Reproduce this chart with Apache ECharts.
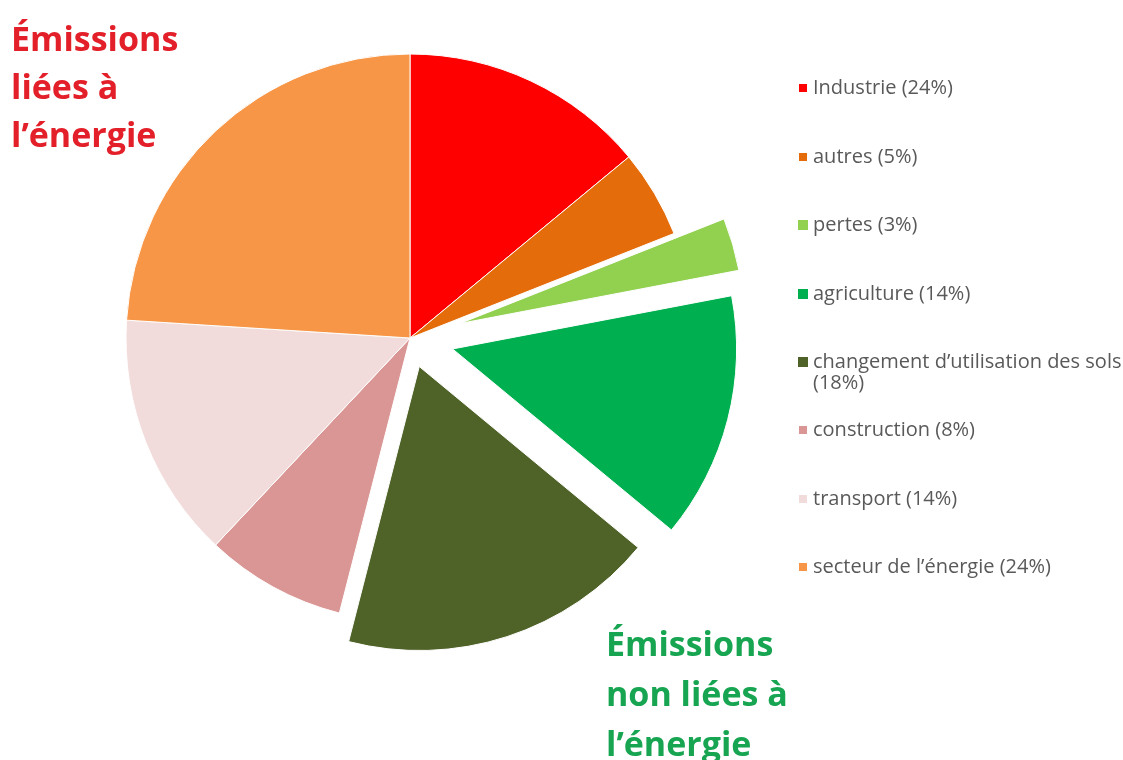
<!DOCTYPE html>
<html>
<head>
<meta charset="utf-8">
<script src="https://cdn.jsdelivr.net/npm/echarts@6/dist/echarts.min.js"></script>
<style>
html,body{margin:0;padding:0;background:#fff;}
#chart{width:1123px;height:760px;}
</style>
</head>
<body>
<div id="chart"></div>
<script>
// Data (slice sizes in %, legend labels as printed)
const names = ["Industrie", "autres", "pertes", "agriculture", "changement d'utilisation des sols", "construction", "transport", "secteur de l'énergie"];
const legendLabels = ["Industrie (24%)", "autres (5%)", "pertes (3%)", "agriculture (14%)", "changement d’utilisation des sols\n(18%)", "construction (8%)", "transport (14%)", "secteur de l’énergie (24%)"];
const values = [14, 5, 3, 14, 18, 8, 14, 24];
const colors = ["#ff0000", "#e46c0a", "#92d050", "#00b050", "#4f6228", "#d99694", "#f2dcdb", "#f79646"];
const exploded = ["pertes", "agriculture", "changement d'utilisation des sols"];
const explodeOffsets = [52, 44, 30];

const center = [410, 338];
const radius = 284;
const transparent = 'rgba(0,0,0,0)';

function dataFor(visibleFn, selectedName) {
  return names.map((n, i) => ({
    name: n,
    value: values[i],
    selected: n === selectedName,
    itemStyle: { color: visibleFn(n) ? colors[i] : transparent, borderColor: visibleFn(n) ? '#ffffff' : transparent, borderWidth: 1 }
  }));
}

const series = [{
  type: 'pie', center: center, radius: radius, startAngle: 90, clockwise: true,
  silent: true, label: { show: false }, labelLine: { show: false },
  data: dataFor(n => exploded.indexOf(n) < 0, null)
}];
exploded.forEach((name, k) => {
  series.push({
    type: 'pie', center: center, radius: radius, startAngle: 90, clockwise: true,
    silent: true, label: { show: false }, labelLine: { show: false },
    selectedMode: 'single', selectedOffset: explodeOffsets[k],
    select: { itemStyle: { borderColor: '#ffffff', borderWidth: 1 } },
    data: dataFor(n => n === name, name)
  });
});

const legendTops = [77.5, 146.5, 214.5, 283.5, 330.5, 419.5, 488.5, 556.5];
const legends = names.map((n, i) => ({
  orient: 'vertical', left: 797, top: legendTops[i], padding: 0,
  icon: 'rect', itemWidth: 10, itemHeight: 10, selectedMode: false,
  formatter: () => (i === 4 ? '\n' : '') + legendLabels[i],
  textStyle: { color: '#595959', fontSize: 20, fontFamily: 'Open Sans', lineHeight: 21 },
  data: [{ name: n, itemStyle: { color: colors[i] } }]
}));

const chart = echarts.init(document.getElementById('chart'));
chart.setOption({
  backgroundColor: '#ffffff',
  animation: false,
  title: [
    { text: 'Émissions\nliées à\nl’énergie', left: 6, top: 12,
      textStyle: { color: '#e3202a', fontSize: 34, fontWeight: 'bold', fontFamily: 'Open Sans', lineHeight: 48 } },
    { text: 'Émissions\nnon liées à\nl’énergie', left: 601, top: 616,
      textStyle: { color: '#17a552', fontSize: 34, fontWeight: 'bold', fontFamily: 'Open Sans', lineHeight: 50 } }
  ],
  legend: legends,
  series: series
});
</script>
</body>
</html>
